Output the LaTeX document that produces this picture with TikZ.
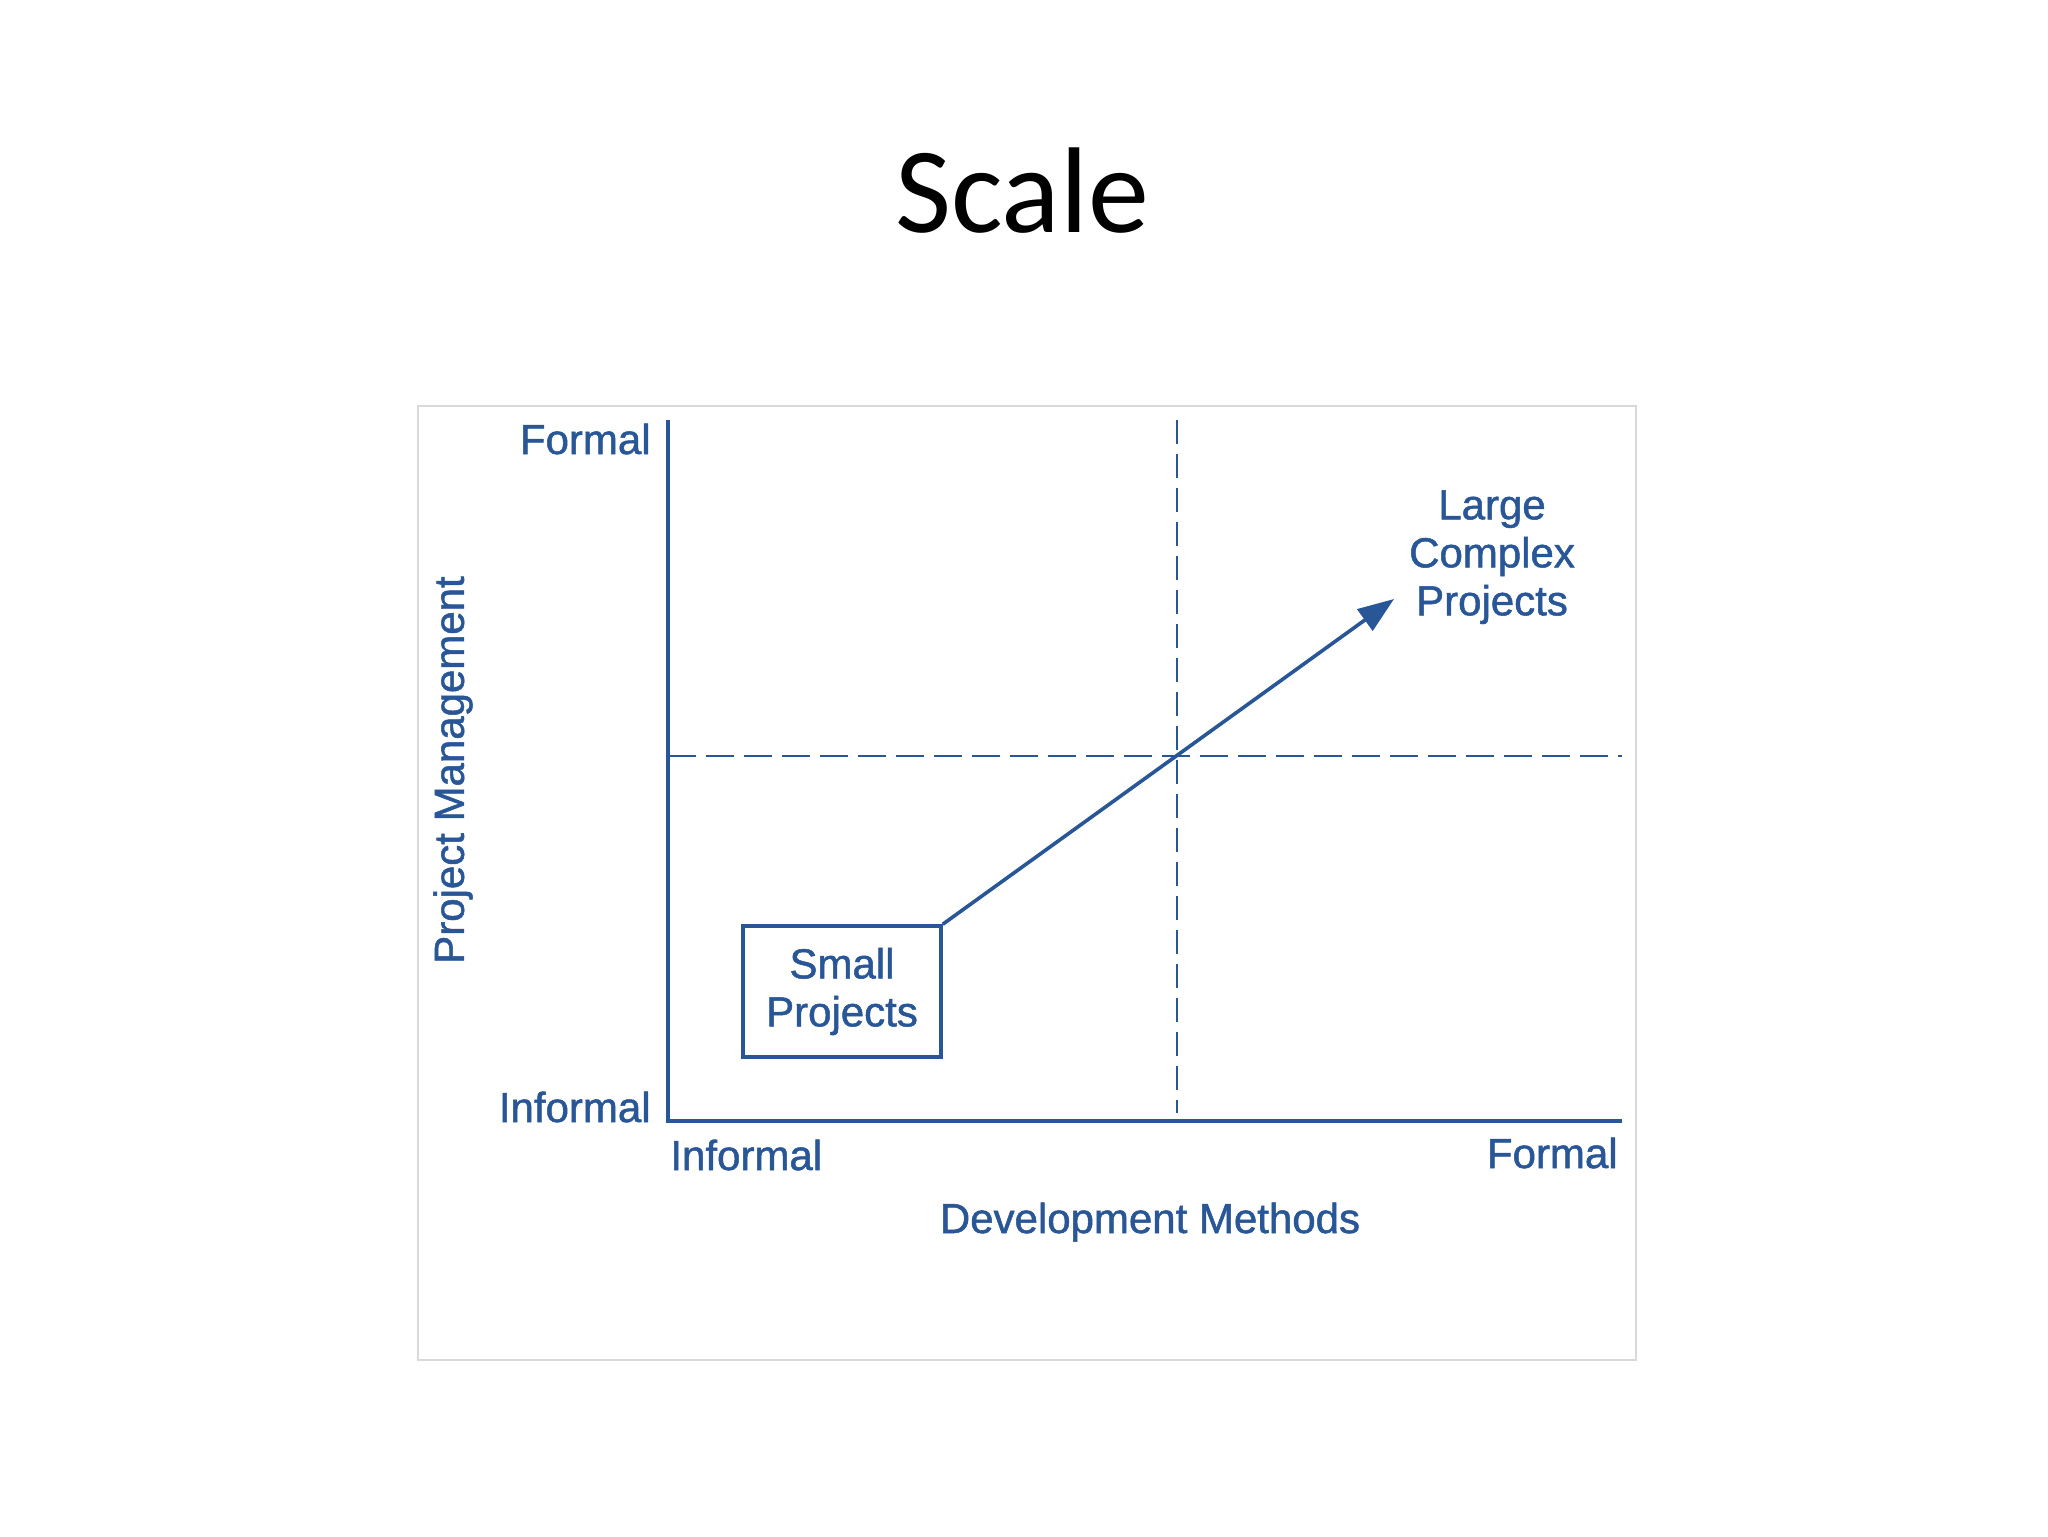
\documentclass[tikz,border=0pt]{standalone}
\usepackage{fontspec}
\setmainfont{Liberation Sans}
\newfontfamily\labelfont[FakeBold=1.2]{Liberation Sans}
\newfontfamily\titlefont{Carlito}
\usetikzlibrary{arrows.meta}
\definecolor{chartblue}{RGB}{40,86,150}
\definecolor{framegray}{RGB}{217,217,217}
\begin{document}
\begin{tikzpicture}[x=0.5pt,y=-0.5pt,
  lbl/.style={text=chartblue,font=\labelfont\fontsize{21pt}{24pt}\selectfont,inner sep=0pt},
  axis/.style={draw=chartblue,line width=1.8pt},
  guide/.style={draw=chartblue,line width=1.4pt,dash pattern=on 14pt off 5pt},
  vguide/.style={draw=chartblue,line width=1.4pt,dash pattern=on 12pt off 5pt},
  boxed/.style={lbl,draw=chartblue,line width=1.8pt,minimum width=99pt,minimum height=65.5pt,align=center},
  trend/.style={draw=chartblue,line width=1.8pt,-{Triangle[length=18pt,width=13pt]}}]
\useasboundingbox (0,0) rectangle (2048,1536);
\fill[white] (0,0) rectangle (2048,1536);
% title
\node[font=\titlefont\fontsize{61pt}{70pt}\selectfont,anchor=base,inner sep=0pt] (title) at (1022,232) {Scale};
% image frame
\draw[framegray,line width=1pt] (418,406) rectangle (1636,1360);
% coordinates
\coordinate (origin) at (668,1121);
\coordinate (ytop) at (668,420);
\coordinate (xend) at (1622,1121);
\coordinate (vtop) at (1177,420);
\coordinate (vbot) at (1177,1113);
\coordinate (hleft) at (668,756);
\coordinate (hright) at (1622,756);
\coordinate (tip) at (1394,599);
% axes and guides
\draw[axis] (ytop) -- (origin) -- (xend);
\draw[vguide] (vtop) -- (vbot);
\draw[guide] (hleft) -- (hright);
% box and arrow
\node[boxed] (small) at (842,991.5) {Small\\Projects};
\draw[trend] (small.north east) -- (tip);
\node[lbl,align=center,anchor=north] (large) at (1492,490) {Large\\Complex\\Projects};
% labels
\node[lbl,anchor=base east] (ytopl) at (651,454) {Formal};
\node[lbl,anchor=base east] (ybotl) at (651,1122) {Informal};
\node[lbl,anchor=base west] (xleftl) at (670,1170) {Informal};
\node[lbl,anchor=base east] (xrightl) at (1618,1168) {Formal};
\node[lbl,anchor=base] (xtitle) at (1150,1233) {Development Methods};
\node[lbl,rotate=90,anchor=center] (ytitle) at (453,770) {Project Management};
\end{tikzpicture}
\end{document}
